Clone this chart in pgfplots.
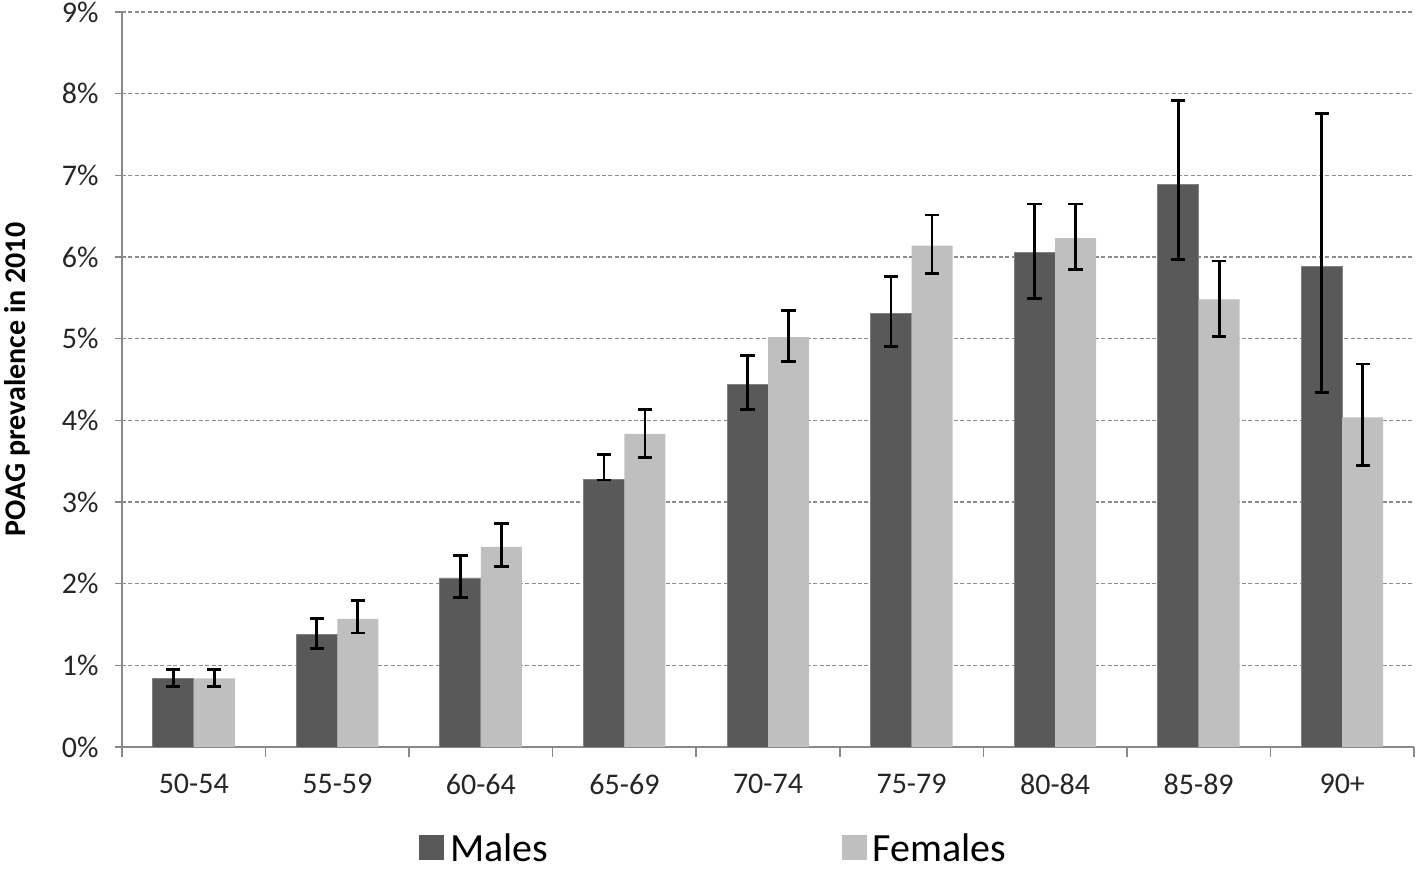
\documentclass[border=0pt]{standalone}
\usepackage{pgfplots}
\pgfplotsset{compat=1.18}
\usepackage{pgfplotstable}
\usepackage{fontspec}
\setmainfont{Carlito}
\definecolor{mdark}{HTML}{595959}
\definecolor{flight}{HTML}{BFBFBF}
\definecolor{axgray}{HTML}{888888}
\definecolor{gridgray}{HTML}{8C8C8C}
\definecolor{txt}{HTML}{262626}

\pgfplotstableread{
x y ep em
0 0.84 0.11 0.10
1 1.38 0.195 0.17
2 2.07 0.27 0.24
3 3.28 0.30 0.01
4 4.44 0.35 0.31
5 5.31 0.45 0.41
6 6.055 0.595 0.565
7 6.89 1.03 0.92
8 5.88 1.88 1.54
}\males

\pgfplotstableread{
x y ep em
0 0.84 0.11 0.10
1 1.57 0.22 0.175
2 2.45 0.29 0.235
3 3.835 0.295 0.295
4 5.02 0.32 0.30
5 6.14 0.375 0.34
6 6.23 0.42 0.38
7 5.48 0.47 0.45
8 4.035 0.655 0.585
}\females

\begin{document}
\begin{tikzpicture}
\begin{axis}[name=ax,
  scale only axis, width=646bp, height=367.5bp,
  xmin=-0.5, xmax=8.5, ymin=0, ymax=9,
  axis x line*=bottom, axis y line*=left,
  axis line style={axgray, line width=0.8bp},
  tick align=outside,
  ybar=0pt, bar width=20.5bp,
  xtick={0,...,8},
  xticklabels={50-54,55-59,60-64,65-69,70-74,75-79,80-84,85-89,90+},
  major x tick style={draw=none},
  minor xtick={-0.5,0.5,1.5,2.5,3.5,4.5,5.5,6.5,7.5,8.5},
  minor tick length=5bp,
  minor x tick style={axgray, line width=0.8bp},
  ytick={0,1,...,9},
  major tick length=3.5bp,
  major y tick style={axgray, line width=0.8bp},
  yticklabel={\pgfmathparse{int(round(\tick))}\pgfmathresult\%},
  ticklabel style={font=\fontsize{15bp}{17bp}\selectfont, text=txt},
  xticklabel style={anchor=north, inner sep=0pt, yshift=-10bp},
  yticklabel style={anchor=east, inner sep=0pt, xshift=-8bp},
  ymajorgrids,
  grid style={gridgray, line width=0.6bp, dash pattern=on 2bp off 1.2bp},
  ylabel={POAG prevalence in 2010},
  ylabel style={at={(axis description cs:-0.0813,0.5)}, anchor=center,
    font=\fontsize{15bp}{17bp}\selectfont\bfseries, text=black},
  legend columns=2,
  legend style={at={(0.2299,-0.1365)}, anchor=west, draw=none, fill=none,
    inner sep=0pt, font=\fontsize{20bp}{24bp}\selectfont, text=black,
    /tikz/every odd column/.append style={column sep=1.5bp},
    /tikz/every even column/.append style={column sep=145bp},
    nodes={inner sep=1.5bp, text depth=0pt}},
  legend image code/.code={\fill[#1, draw=none] (0bp,-6.25bp) rectangle (12.5bp,6.25bp);},
  error bars/y dir=both, error bars/y explicit,
  error bars/error bar style={black, line width=1.4bp},
  error bars/error mark options={rotate=90, mark size=3.6bp, line width=1.4bp, black},
]
\addplot[fill=mdark, draw=gray, line width=0.4bp] table[x=x, y=y, y error plus=ep, y error minus=em] {\males};
\addlegendentry{Males}
\addplot[fill=flight, draw=none] table[x=x, y=y, y error plus=ep, y error minus=em] {\females};
\addlegendentry{Females}
\end{axis}
\pgfresetboundingbox
\path[use as bounding box] ([xshift=-61bp,yshift=-62.5bp]ax.south west) rectangle ([xshift=2bp,yshift=6bp]ax.north east);
\end{tikzpicture}
\end{document}
